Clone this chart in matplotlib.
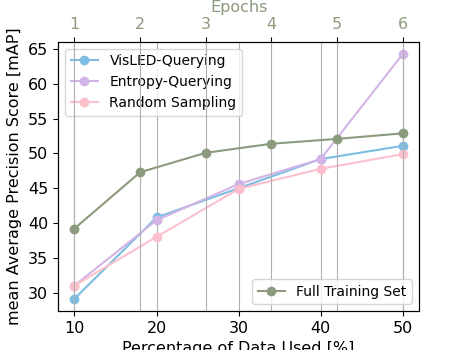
import matplotlib.pyplot as plt

pct = [10, 20, 30, 40, 50]
visled = [29.1, 40.8, 45.0, 49.2, 51.1]
entropy = [31.0, 40.4, 45.6, 49.2, 64.3]
random_s = [31.0, 38.0, 44.9, 47.8, 49.9]

epochs = [1, 2, 3, 4, 5, 6]
full = [39.2, 47.3, 50.1, 51.4, 52.1, 52.9]

green = '#8c9a7e'

fig = plt.figure(figsize=(4.66, 3.5), dpi=100)
ax = fig.add_axes([0.1245, 0.1114, 0.775, 0.769])

ax.plot(pct, visled, '-o', color='#7dbde2', label='VisLED-Querying')
ax.plot(pct, entropy, '-o', color='#d3b4e6', label='Entropy-Querying')
ax.plot(pct, random_s, '-o', color='#fcc0cc', label='Random Sampling')
ax.set_xticks(pct)
ax.grid(axis='x', color='#b0b0b0')
ax.tick_params(labelsize=11.5)
ax.set_xlabel('Percentage of Data Used [%]', fontsize=11.5)
ax.set_ylabel('mean Average Precision Score [mAP]', fontsize=11.5)
ax.legend(loc='upper left', fontsize=10)

# full training set against epochs on the top axis
ax2 = ax.twiny()
ax2.plot(epochs, full, '-o', color=green, label='Full Training Set')
ax2.set_xlim(1 - 2 * 5 / 40, 6 + 2 * 5 / 40)
ax2.set_xticks(epochs)
ax2.grid(axis='x', color='#b0b0b0')
ax2.tick_params(labelsize=11.5, labelcolor=green)
ax2.set_xlabel('Epochs', fontsize=11.5, color=green)
ax2.legend(loc='lower right', fontsize=10)

fig.savefig('out.png', dpi=100)
